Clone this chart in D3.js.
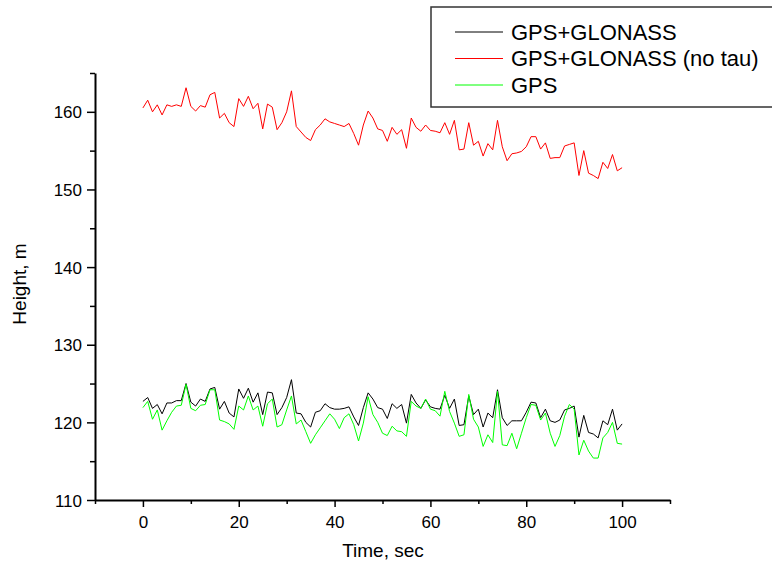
<!DOCTYPE html>
<html>
<head>
<meta charset="utf-8">
<script src="https://d3js.org/d3.v7.min.js"></script>
<style>
    body { margin: 0; background: #fff; }
    text { font-family: "Liberation Sans", Arial, sans-serif; }
</style>
</head>
<body>
<svg id="drawing_region"></svg>
<script>
// time axis, one sample per second
const seconds = d3.range(0, 101);

const gpsGlonass = [
    122.7,123.2,121.8,122.3,121.1,122.5,122.5,122.8,122.8,125.0,
    122.6,122.1,123.0,122.7,124.3,124.5,121.7,122.7,121.2,120.7,
    124.3,123.1,124.4,122.6,123.8,121.0,123.9,123.8,121.0,121.9,
    123.2,125.5,121.2,121.1,120.0,119.4,121.3,121.5,122.4,121.9,
    121.7,121.7,121.8,122.0,120.7,119.6,121.9,123.8,123.0,121.9,
    121.7,120.5,122.4,121.8,122.3,119.9,123.6,122.5,121.8,122.9,
    122.0,121.8,121.7,123.5,121.8,123.0,119.6,119.7,123.4,121.0,
    121.7,119.4,121.2,120.6,124.2,120.6,119.6,120.2,120.2,120.2,
    121.3,122.6,122.5,120.6,121.7,120.2,120.0,120.3,121.6,121.8,
    122.1,118.1,120.9,118.7,118.5,118.0,120.2,119.7,121.7,119.0,
    119.8
];

const gpsGlonassNoTau = [
    160.5,161.5,160.0,160.9,159.6,160.9,160.7,160.9,160.7,163.1,
    160.7,160.1,160.8,160.6,162.2,162.5,159.2,159.8,158.6,158.1,
    161.7,160.7,162.0,160.4,161.1,157.8,161.0,160.6,157.7,158.6,
    160.0,162.7,158.1,157.4,156.7,156.3,157.7,158.3,159.1,158.7,
    158.5,158.3,158.1,158.5,157.2,155.7,158.3,160.1,159.2,157.8,
    157.6,156.2,158.0,157.1,157.7,155.3,159.2,158.0,157.5,158.3,
    157.6,157.5,157.3,158.6,157.1,158.9,155.1,155.2,158.6,155.7,
    156.2,154.3,155.9,155.1,158.9,155.5,153.7,154.6,154.7,154.9,
    155.5,156.8,156.8,155.2,156.0,154.0,154.1,154.1,155.6,155.8,
    156.0,151.8,155.0,152.1,151.8,151.4,153.5,152.7,154.5,152.4,
    152.8
];

const gpsOnly = [
    121.9,122.7,120.4,121.6,119.0,120.2,121.3,122.1,122.2,124.9,
    121.8,121.5,122.2,122.3,124.2,124.2,120.3,120.1,119.8,119.1,
    122.1,121.6,123.4,121.6,122.1,119.5,122.4,123.0,119.4,119.7,
    121.6,123.4,119.8,120.3,118.8,117.3,118.4,119.3,120.2,121.1,
    120.4,119.2,120.6,121.1,119.7,117.6,119.9,123.3,121.0,120.0,
    118.6,118.3,119.5,118.9,118.8,118.2,122.7,122.1,121.8,123.0,
    121.7,121.5,120.8,124.0,121.4,119.9,118.2,118.4,123.6,120.4,
    119.4,116.9,118.4,117.4,124.0,117.1,117.0,118.6,116.6,118.6,
    120.6,122.3,122.2,120.3,121.2,118.6,116.9,118.3,120.8,122.3,
    121.7,115.8,117.7,116.3,115.4,115.4,118.0,118.7,120.0,117.3,
    117.2
];

const seriesNames = ["GPS+GLONASS", "GPS+GLONASS (no tau)", "GPS"];
const seriesColors = ["#000000", "#ff0000", "#00ff00"];

const xMajor = [0, 20, 40, 60, 80, 100];
const xMinor = [-10, 10, 30, 50, 70, 90, 110];
const yMajor = [110, 120, 130, 140, 150, 160];
const yMinor = [115, 125, 135, 145, 155, 165];

const config = {
    width: 772,
    height: 563,
    margin: {top: 73, right: 102, bottom: 63, left: 95}
};

const svg = d3.select('#drawing_region')
    .attr('width', config.width)
    .attr('height', config.height);

const inner_width = config.width - config.margin.left - config.margin.right;
const inner_height = config.height - config.margin.top - config.margin.bottom;

const chart = svg.append('g')
    .attr('transform', `translate(${config.margin.left}, ${config.margin.top})`);

const xscale = d3.scaleLinear()
    .domain([-10, 110])
    .range([0, inner_width]);

const yscale = d3.scaleLinear()
    .domain([110, 165])
    .range([inner_height, 0]);

// minor ticks first, major with labels on top
chart.append('g')
    .attr('transform', `translate(0, ${inner_height})`)
    .call(d3.axisBottom(xscale).tickValues(xMinor).tickSize(4).tickSizeOuter(0).tickFormat(''))
    .call(g => g.select('.domain').remove());

const xaxis_group = chart.append('g')
    .attr('transform', `translate(0, ${inner_height})`)
    .call(d3.axisBottom(xscale).tickValues(xMajor).tickSize(7).tickSizeOuter(0).tickPadding(9));

chart.append('g')
    .call(d3.axisLeft(yscale).tickValues(yMinor).tickSize(5).tickSizeOuter(0).tickFormat(''))
    .call(g => g.select('.domain').remove());

const yaxis_group = chart.append('g')
    .call(d3.axisLeft(yscale).tickValues(yMajor).tickSize(8).tickSizeOuter(0).tickPadding(5));

chart.selectAll('.tick line')
    .attr('stroke', '#000')
    .attr('stroke-width', 1.5);

chart.selectAll('.domain')
    .attr('stroke', '#000')
    .attr('stroke-width', 2);

chart.selectAll('.tick text')
    .attr('font-size', '17px')
    .attr('font-family', '"Liberation Sans", Arial, sans-serif')
    .attr('fill', '#000');

yaxis_group.selectAll('.tick text')
    .attr('dy', '0.36em');

// lines
const line = d3.line()
    .x((d, i) => xscale(seconds[i]))
    .y(d => yscale(d));

const allSeries = [gpsGlonass, gpsGlonassNoTau, gpsOnly];

chart.selectAll('.series')
    .data(allSeries)
    .enter()
    .append('path')
    .attr('class', 'series')
    .attr('d', d => line(d))
    .attr('fill', 'none')
    .attr('stroke', (d, i) => seriesColors[i])
    .attr('stroke-width', 1);

// axis titles
svg.append('text')
    .attr('x', 383)
    .attr('y', 557)
    .attr('text-anchor', 'middle')
    .attr('font-size', '19px')
    .text('Time, sec');

svg.append('text')
    .attr('transform', 'translate(26, 284) rotate(-90)')
    .attr('text-anchor', 'middle')
    .attr('font-size', '19px')
    .text('Height, m');

// legend
const legend = svg.append('g');

legend.append('rect')
    .attr('x', 431)
    .attr('y', 7)
    .attr('width', 400)
    .attr('height', 100)
    .attr('fill', '#fff')
    .attr('stroke', '#333')
    .attr('stroke-width', 1.5);

const rows = legend.selectAll('.row')
    .data(seriesNames)
    .enter()
    .append('g')
    .attr('transform', (d, i) => `translate(0, ${32 + i * 26.5})`);

rows.append('line')
    .attr('x1', 455)
    .attr('x2', 503)
    .attr('stroke', (d, i) => seriesColors[i])
    .attr('stroke-width', 1);

rows.append('text')
    .attr('x', 511)
    .attr('dy', '0.36em')
    .attr('font-size', '22px')
    .text(d => d);
</script>
</body>
</html>
